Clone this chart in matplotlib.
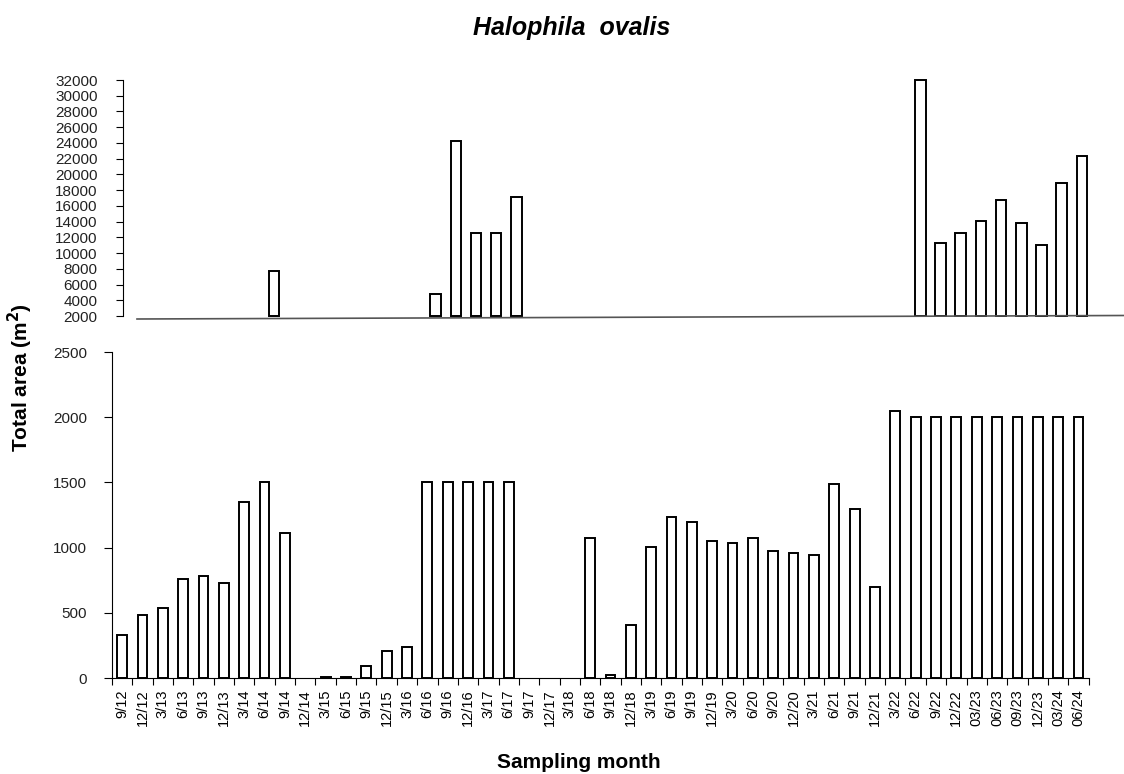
import numpy as np
import matplotlib.pyplot as plt
from matplotlib.lines import Line2D

plt.rcParams['font.family'] = ['Liberation Sans', 'DejaVu Sans']

# Sampling months (x categories)
months = ['9/12', '12/12', '3/13', '6/13', '9/13', '12/13', '3/14', '6/14', '9/14',
          '12/14', '3/15', '6/15', '9/15', '12/15', '3/16', '6/16', '9/16', '12/16',
          '3/17', '6/17', '9/17', '12/17', '3/18', '6/18', '9/18', '12/18', '3/19',
          '6/19', '9/19', '12/19', '3/20', '6/20', '9/20', '12/20', '3/21', '6/21',
          '9/21', '12/21', '3/22', '6/22', '9/22', '12/22', '03/23', '06/23', '09/23',
          '12/23', '03/24', '06/24']

nan = np.nan

# Lower panel: total area (m2), 0-2500 scale (nan = no bar)
area_low = [330, 480, 535, 760, 785, 725, 1350, 1500, 1115,
            nan, 8, 8, 95, 210, 235, 1500, 1500, 1500,
            1500, 1500, nan, nan, nan, 1075, 25, 405, 1005,
            1235, 1200, 1050, 1035, 1075, 975, 955, 945, 1490,
            1295, 700, 2050, 2000, 2000, 2000, 2000, 2000, 2000,
            2000, 2000, 2000]

# Upper panel: total area (m2), 2000-32000 scale (nan = no bar)
area_high = [nan, nan, nan, nan, nan, nan, nan, 7700, nan,
             nan, nan, nan, nan, nan, nan, 4750, 24300, 12600,
             12500, 17100, nan, nan, nan, nan, nan, nan, nan,
             nan, nan, nan, nan, nan, nan, nan, nan, nan,
             nan, nan, nan, 32000, 11300, 12500, 14100, 16700, 13800,
             11000, 18900, 22300]

W, H = 1124, 774
fig = plt.figure(figsize=(W / 100, H / 100), dpi=100)

x = np.arange(len(months))

# ---- lower panel ----
ax = fig.add_axes([112 / W, 1 - 678 / H, (1088.6 - 112) / W, (678 - 352) / H])
ax.bar(x, area_low, width=0.48, facecolor='white', edgecolor='black', linewidth=1.4)
ax.set_xlim(-0.5, len(months) - 0.5)
ax.set_ylim(0, 2500)
ax.set_yticks(np.arange(0, 2501, 500))
ax.set_xticks(x)
ax.set_xticklabels(months, rotation=90, fontsize=10.5)
ax.set_xticks(np.arange(-0.5, len(months)), minor=True)
ax.tick_params(axis='x', which='major', length=0, pad=8)
ax.tick_params(axis='x', which='minor', length=5, width=0.8, direction='out')
ax.tick_params(axis='y', length=6, width=0.8, pad=12, labelsize=11, labelcolor='#222222')
for s in ['top', 'right']:
    ax.spines[s].set_visible(False)
ax.spines['left'].set_linewidth(0.8)
ax.spines['bottom'].set_linewidth(0.8)

# ---- upper panel ----
base = 2000
ax2 = fig.add_axes([122.5 / W, 1 - 316 / H, (1092 - 122.5) / W, (316 - 80) / H])
ax2.bar(x, np.array(area_high) - base, bottom=base, width=0.52, facecolor='white',
        edgecolor='black', linewidth=1.4, clip_on=False)
ax2.set_xlim(-0.5, len(months) - 0.5)
ax2.set_ylim(2000, 32000)
ax2.set_yticks(np.arange(2000, 32001, 2000))
ax2.set_xticks([])
ax2.tick_params(axis='y', length=5, width=0.8, pad=13, labelsize=11, labelcolor='#222222')
for s in ['top', 'right', 'bottom']:
    ax2.spines[s].set_visible(False)
ax2.spines['left'].set_linewidth(0.8)

# baseline of upper panel (slightly tilted grey line)
fig.add_artist(Line2D([137 / W, 1124 / W], [1 - 319 / H, 1 - 315.5 / H],
                      transform=fig.transFigure, color='#555555', linewidth=1.2))

# ---- labels ----
fig.text(572 / W, 1 - 28 / H, 'Halophila  ovalis', ha='center', va='center',
         fontsize=18, fontweight='bold', fontstyle='italic')
fig.text(579 / W, 1 - 762 / H, 'Sampling month', ha='center', va='center',
         fontsize=15, fontweight='bold')
fig.text(20 / W, 1 - 378 / H, 'Total area (m$^\\mathbf{2}$)', ha='center', va='center',
         rotation=90, fontsize=15, fontweight='bold')

fig.savefig('out.png', dpi=100)
